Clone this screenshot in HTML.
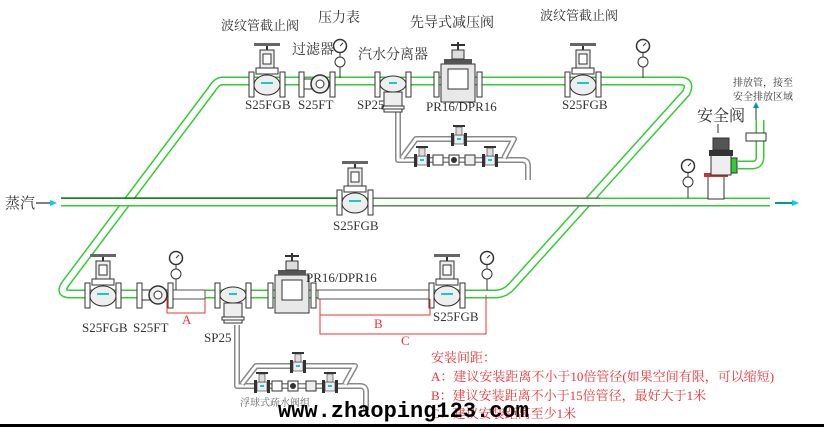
<!DOCTYPE html>
<html><head><meta charset="utf-8"><style>
body{margin:0;background:#fff;width:824px;height:427px;overflow:hidden}
svg{display:block}
.l{font-family:"Liberation Serif","Noto Serif CJK SC",serif;fill:#333}
</style></head><body>
<svg width="824" height="427" viewBox="0 0 824 427" xmlns="http://www.w3.org/2000/svg">
<defs>
<g id="v">
 <rect x="-18" y="-12" width="5" height="25" fill="#fff" stroke="#333"/>
 <rect x="13" y="-12" width="5" height="25" fill="#fff" stroke="#333"/>
 <ellipse cx="0" cy="1" rx="13" ry="10" fill="#eee" stroke="#333"/>
 <rect x="-6" y="-2" width="12" height="2" fill="#1cc"/>
 <rect x="-11" y="-16" width="22" height="6" fill="#fff" stroke="#333"/>
 <rect x="-7" y="-34" width="14" height="18" fill="#eee" stroke="#333"/>
 <rect x="-4" y="-30" width="8" height="10" fill="#fff" stroke="#333"/>
 <line x1="0" y1="-34" x2="0" y2="-40" stroke="#333" stroke-width="2"/>
 <rect x="-13" y="-41" width="26" height="3" fill="#666"/>
</g>
<g id="sv">
 <rect x="-8" y="-6" width="3" height="13" fill="#333"/>
 <rect x="5" y="-6" width="3" height="13" fill="#333"/>
 <rect x="-5" y="-4" width="10" height="9" fill="#eee" stroke="#333" stroke-width=".6"/>
 <rect x="-2" y="-1" width="4" height="2" fill="#1cc"/>
 <rect x="-3" y="-12" width="6" height="8" fill="#ddd" stroke="#333" stroke-width=".6"/>
 <rect x="-6" y="-14" width="12" height="2" fill="#333"/>
</g>
<g id="g">
 <line x1="0" y1="0" x2="0" y2="-30" stroke="#333"/>
 <circle cx="0" cy="-16" r="5" fill="#fff" stroke="#333"/>
 <circle cx="0" cy="-32" r="6.5" fill="#fff" stroke="#333" stroke-width="1.5"/>
 <line x1="0" y1="-32" x2="3" y2="-35" stroke="#333"/>
</g>
<g id="f">
 <rect x="-18" y="-12" width="5" height="25" fill="#fff" stroke="#333"/>
 <rect x="13" y="-12" width="5" height="25" fill="#fff" stroke="#333"/>
 <rect x="-13" y="-5" width="8" height="10" fill="#fff" stroke="#333"/>
 <circle cx="3" cy="0" r="9" fill="#eee" stroke="#333" stroke-width="1.5"/>
 <circle cx="3" cy="0" r="4" fill="#fff" stroke="#333"/>
</g>
<g id="sp">
 <rect x="-18" y="-12" width="5" height="25" fill="#fff" stroke="#333"/>
 <rect x="13" y="-12" width="5" height="25" fill="#fff" stroke="#333"/>
 <ellipse cx="0" cy="0" rx="13" ry="8" fill="#eee" stroke="#333"/>
 <rect x="-4" y="-2" width="8" height="2" fill="#1cc"/>
 <rect x="-9" y="8" width="18" height="14" fill="#eee" stroke="#333"/>
 <rect x="-11" y="22" width="22" height="3" fill="#fff" stroke="#333"/>
 <rect x="-9" y="25" width="18" height="3" fill="#fff" stroke="#333"/>
</g>
<g id="pr">
 <rect x="-24" y="-12" width="5" height="25" fill="#fff" stroke="#333"/>
 <rect x="19" y="-12" width="5" height="25" fill="#fff" stroke="#333"/>
 <rect x="-17" y="-20" width="34" height="38" fill="#e8e8e8" stroke="#333"/>
 <rect x="-10" y="-15" width="20" height="20" fill="#fff" stroke="#333"/>
 <rect x="-14" y="-25" width="28" height="5" fill="#555"/>
 <rect x="-6" y="-34" width="12" height="9" fill="#ddd" stroke="#333"/>
 <line x1="0" y1="-34" x2="0" y2="-42" stroke="#333" stroke-width="2"/>
 <rect x="-7" y="-40" width="14" height="2" fill="#333"/>
</g>
</defs>

<!-- pipes -->
<g fill="none" stroke-linejoin="round">
 <path d="M222 81 L680 81 Q692 81 686 93 L512 286 Q505 294 495 294 L70 294 Q58 294 66 283 L212 89 Q217 81 222 81 Z" stroke="#3c3" stroke-width="9"/>
 <path d="M222 81 L680 81 Q692 81 686 93 L512 286 Q505 294 495 294 L70 294 Q58 294 66 283 L212 89 Q217 81 222 81 Z" stroke="#fff" stroke-width="6"/>
 <line x1="61" y1="202" x2="770" y2="202" stroke="#3c3" stroke-width="9"/>
 <line x1="61" y1="202" x2="770" y2="202" stroke="#fff" stroke-width="6"/>
 <line x1="61" y1="198" x2="340" y2="198" stroke="#060" stroke-width="1.3"/>
 <line x1="370" y1="198" x2="600" y2="198" stroke="#666" stroke-width="1"/>
 <line x1="370" y1="206" x2="600" y2="206" stroke="#666" stroke-width="1"/>
 <rect x="165" y="290" width="40" height="9" fill="#fff" stroke="#555"/>
 <rect x="318" y="290" width="112" height="9" fill="#fff" stroke="#555"/>
 <path d="M398 108 L398 160 L522 160 Q528 160 528 166 L528 180" stroke="#888" stroke-width="6"/>
 <path d="M398 108 L398 160 L522 160 Q528 160 528 166 L528 180" stroke="#fff" stroke-width="3"/>
 <path d="M402 158 L416 139 L514 139 L504 158" stroke="#888" stroke-width="6"/>
 <path d="M402 158 L416 139 L514 139 L504 158" stroke="#fff" stroke-width="3"/>
 <path d="M237 325 L237 386 L360 386 Q366 386 366 392 L366 410" stroke="#888" stroke-width="6"/>
 <path d="M237 325 L237 386 L360 386 Q366 386 366 392 L366 410" stroke="#fff" stroke-width="3"/>
 <path d="M242 384 L256 366 L355 366 L345 384" stroke="#888" stroke-width="6"/>
 <path d="M242 384 L256 366 L355 366 L345 384" stroke="#fff" stroke-width="3"/>
 <path d="M738 165 L752 165 Q760 165 760 157 L760 120" stroke="#3c3" stroke-width="9"/>
 <path d="M738 165 L752 165 Q760 165 760 157 L760 120" stroke="#fff" stroke-width="6"/>
</g>

<use href="#v" x="267" y="84"/>
<use href="#f" x="317" y="84"/>
<use href="#g" x="340" y="78"/>
<use href="#sp" x="393" y="84"/>
<use href="#pr" x="458" y="84"/>
<use href="#v" x="583" y="84"/>
<use href="#g" x="643" y="78"/>
<use href="#v" x="355" y="202"/>
<use href="#g" x="688" y="198"/>
<use href="#v" x="103" y="295"/>
<use href="#f" x="155" y="295"/>
<use href="#g" x="176" y="290"/>
<use href="#sp" x="233" y="295"/>
<use href="#pr" x="292" y="295"/>
<use href="#v" x="447" y="295"/>
<use href="#g" x="487" y="290"/>
<use href="#sv" x="422" y="160"/><use href="#sv" x="459" y="139"/><use href="#sv" x="490" y="160"/>
<rect x="433" y="155" width="10" height="10" fill="#fff" stroke="#333"/>
<rect x="449" y="155" width="10" height="10" fill="#fff" stroke="#333"/><circle cx="454" cy="160" r="3" fill="#333"/>
<rect x="465" y="155" width="10" height="10" fill="#eee" stroke="#333"/>
<use href="#sv" x="262" y="386"/><use href="#sv" x="298" y="366"/><use href="#sv" x="330" y="386"/>
<rect x="272" y="381" width="10" height="10" fill="#fff" stroke="#333"/>
<rect x="288" y="381" width="10" height="10" fill="#fff" stroke="#333"/><circle cx="293" cy="386" r="3" fill="#333"/>
<rect x="306" y="381" width="10" height="10" fill="#eee" stroke="#333"/>

<rect x="708" y="175" width="16" height="24" fill="#fff" stroke="#333"/>
<rect x="704" y="173" width="24" height="4" fill="#c33"/>
<rect x="711" y="155" width="20" height="20" fill="#eee" stroke="#333"/>
<rect x="709" y="150" width="24" height="6" fill="#333"/>
<rect x="713" y="138" width="16" height="12" fill="#555" stroke="#333"/>
<rect x="731" y="158" width="6" height="15" fill="#3c3" stroke="#333"/>
<rect x="746" y="133" width="20" height="8" fill="#fff" stroke="#333"/>
<line x1="756" y1="120" x2="756" y2="106" stroke="#333"/><path d="M753 108 L756 102 L759 108Z" fill="#099"/>
<line x1="718" y1="124" x2="718" y2="133" stroke="#333"/>
<line x1="36" y1="203" x2="53" y2="203" stroke="#000"/><path d="M50 200 L57 203 L50 206Z" fill="#0cf"/>
<line x1="775" y1="203" x2="795" y2="203" stroke="#099" stroke-width="2"/><path d="M792 200 L799 203 L792 206Z" fill="#0cf"/>

<g stroke="#e33" fill="none">
 <path d="M167 299 V313 H205 V299"/>
 <path d="M320 299 V315 H430 V299"/>
 <path d="M320 315 V334 H486 V295"/>
</g>

<g class="l" font-size="14">
 <text x="221" y="30" font-size="13">波纹管截止阀</text>
 <text x="318" y="22">压力表</text>
 <text x="292" y="54">过滤器</text>
 <text x="358" y="59">汽水分离器</text>
 <text x="410" y="27">先导式减压阀</text>
 <text x="540" y="20" font-size="13">波纹管截止阀</text>
 <text x="697" y="121" font-size="16">安全阀</text>
 <text x="5" y="208" font-size="15">蒸汽</text>
</g>
<g class="l" font-size="10"><text x="733" y="86">排放管，接至</text><text x="733" y="100">安全排放区域</text>
<text x="240" y="406" fill="#666">浮球式疏水阀组</text></g>
<g class="l" font-size="13">
 <text x="245" y="109">S25FGB</text><text x="298" y="109">S25FT</text><text x="357" y="109">SP25</text>
 <text x="426" y="111">PR16/DPR16</text><text x="562" y="109">S25FGB</text>
 <text x="333" y="230">S25FGB</text>
 <text x="82" y="332">S25FGB</text><text x="133" y="332">S25FT</text><text x="204" y="342">SP25</text>
 <text x="306" y="282">PR16/DPR16</text><text x="433" y="321">S25FGB</text>
</g>
<g class="l" font-size="13" style="fill:#e33">
 <text x="182" y="324">A</text><text x="374" y="328">B</text><text x="401" y="345">C</text>
 <text x="431" y="362">安装间距：</text>
 <text x="431" y="381">A：建议安装距离不小于10倍管径(如果空间有限，可以缩短)</text>
 <text x="431" y="400">B：建议安装距离不小于15倍管径，最好大于1米</text>
 <text x="431" y="418">C：建议安装距离至少1米</text>
</g>
<text x="278" y="417" font-family="Liberation Mono,monospace" font-weight="bold" font-size="22" fill="#000">www.zhaoping123.com</text>
<rect x="0" y="424" width="824" height="3" fill="#000"/>
</svg>
</body></html>
